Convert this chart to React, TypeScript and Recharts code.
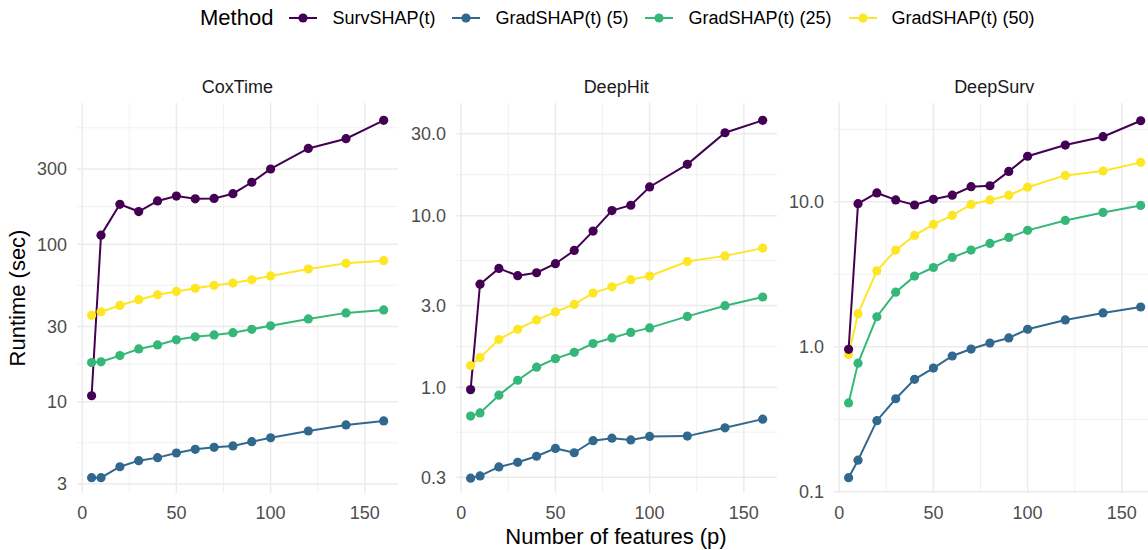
import React from "react";
import {
  LineChart,
  Line,
  XAxis,
  YAxis,
  CartesianGrid,
} from "recharts";

// Number of features on the x axis (shared by all panels)
const features = [5, 10, 20, 30, 40, 50, 60, 70, 80, 90, 100, 120, 140, 160];

const methods = ["SurvSHAP(t)", "GradSHAP(t) (5)", "GradSHAP(t) (25)", "GradSHAP(t) (50)"];
const methodColors = ["#440154", "#31688E", "#35B779", "#FDE725"];

// CoxTime runtimes (sec)
const coxSurv = [10.9, 114, 179, 161, 188, 202, 194, 195, 209, 247, 300, 405, 467, 611];
const coxGrad5 = [3.29, 3.29, 3.86, 4.22, 4.41, 4.72, 4.98, 5.13, 5.23, 5.57, 5.9, 6.51, 7.11, 7.54];
const coxGrad25 = [17.7, 17.9, 19.6, 21.6, 22.9, 24.7, 25.8, 26.5, 27.4, 28.8, 30.3, 33.5, 36.6, 38.2];
const coxGrad50 = [35.3, 37.2, 40.8, 44.4, 47.7, 50.1, 52.4, 54.7, 56.6, 59.4, 62.8, 69.5, 75.5, 78.5];

// DeepHit runtimes (sec)
const hitSurv = [0.97, 3.99, 4.93, 4.47, 4.65, 5.25, 6.27, 8.13, 10.7, 11.5, 14.7, 19.9, 30.4, 35.9];
const hitGrad5 = [0.296, 0.305, 0.344, 0.366, 0.397, 0.441, 0.416, 0.489, 0.506, 0.494, 0.518, 0.52, 0.581, 0.653];
const hitGrad25 = [0.68, 0.71, 0.9, 1.1, 1.31, 1.47, 1.6, 1.8, 1.94, 2.09, 2.22, 2.59, 2.99, 3.36];
const hitGrad50 = [1.34, 1.49, 1.9, 2.18, 2.47, 2.75, 3.04, 3.54, 3.85, 4.24, 4.45, 5.41, 5.83, 6.47];

// DeepSurv runtimes (sec)
const survSurv = [0.96, 9.7, 11.5, 10.3, 9.5, 10.4, 11.1, 12.7, 12.9, 16.2, 20.6, 24.6, 28.1, 36.2];
const survGrad5 = [0.125, 0.165, 0.309, 0.438, 0.596, 0.713, 0.863, 0.964, 1.06, 1.15, 1.32, 1.53, 1.71, 1.88];
const survGrad25 = [0.41, 0.77, 1.61, 2.38, 3.07, 3.52, 4.13, 4.64, 5.16, 5.68, 6.35, 7.43, 8.44, 9.43];
const survGrad50 = [0.885, 1.69, 3.34, 4.64, 5.86, 6.98, 8.05, 9.59, 10.3, 11.1, 12.6, 15.2, 16.3, 18.7];

// axis ticks
const xTicks = [0, 50, 100, 150];
const xMinor = [25, 75, 125];

const coxTicks = [3, 10, 30, 100, 300];
const coxTickLabels = ["3", "10", "30", "100", "300"];
const coxMinor = [5.48, 17.3, 54.8, 173, 548];

const hitTicks = [0.3, 1, 3, 10, 30];
const hitTickLabels = ["0.3", "1.0", "3.0", "10.0", "30.0"];
const hitMinor = [0.548, 1.73, 5.48, 17.3];

const survTicks = [0.1, 1, 10];
const survTickLabels = ["0.1", "1.0", "10.0"];
const survMinor = [0.316, 3.16, 31.6];

const FONT = '"Liberation Sans", Arial, Helvetica, sans-serif';
const PLOT_TOP = 103;
const PLOT_H = 390;
const PLOT_W = 321.3;
const YAXIS_W = 70;
const XAXIS_H = 30;

function buildRows(series: number[][]) {
  return features.map((p, i) => {
    const row: Record<string, number> = { p };
    series.forEach((s, k) => {
      row[`m${k}`] = s[i];
    });
    return row;
  });
}

interface PanelProps {
  title: string;
  plotLeft: number;
  series: number[][];
  domain: [number, number];
  ticks: number[];
  tickLabels: string[];
  minor: number[];
}

// draw order: lines first, then points; SurvSHAP on top
const drawOrder = [1, 2, 3, 0];

function Panel({ title, plotLeft, series, domain, ticks, tickLabels, minor }: PanelProps) {
  const data = buildRows(series);
  const tickStyle = { fill: "#4D4D4D", fontSize: 18, fontFamily: FONT };
  return (
    <>
      <div
        style={{
          position: "absolute",
          left: plotLeft,
          width: PLOT_W,
          top: 75,
          height: 24,
          lineHeight: "24px",
          textAlign: "center",
          fontSize: 18,
          color: "#1A1A1A",
        }}
      >
        {title}
      </div>
      <div style={{ position: "absolute", left: plotLeft - YAXIS_W, top: PLOT_TOP }}>
        <LineChart
          width={YAXIS_W + PLOT_W}
          height={PLOT_H + XAXIS_H}
          data={data}
          margin={{ top: 0, right: 0, bottom: 0, left: 0 }}
        >
          <CartesianGrid
            stroke="#EDEDED"
            strokeWidth={0.8}
            horizontalValues={minor}
            verticalValues={xMinor}
            syncWithTicks
          />
          <CartesianGrid stroke="#EBEBEB" strokeWidth={1.5} syncWithTicks />
          <XAxis
            dataKey="p"
            type="number"
            domain={[-2.75, 167.75]}
            allowDataOverflow
            ticks={xTicks}
            height={XAXIS_H}
            axisLine={false}
            tickLine={false}
            tickSize={0}
            tickMargin={13.5}
            tick={tickStyle}
          />
          <YAxis
            type="number"
            scale="log"
            domain={domain}
            allowDataOverflow
            ticks={ticks}
            width={YAXIS_W}
            axisLine={false}
            tickLine={false}
            tickSize={0}
            tickMargin={10}
            tick={tickStyle}
            tickFormatter={(v: number) => {
              const idx = ticks.indexOf(v);
              return idx >= 0 ? tickLabels[idx] : String(v);
            }}
          />
          {drawOrder.map((k) => (
            <Line
              key={`line-${k}`}
              type="linear"
              dataKey={`m${k}`}
              stroke={methodColors[k]}
              strokeWidth={2}
              dot={false}
              activeDot={false}
              isAnimationActive={false}
            />
          ))}
          {drawOrder.map((k) => (
            <Line
              key={`pts-${k}`}
              type="linear"
              dataKey={`m${k}`}
              stroke="none"
              dot={{ r: 4.6, fill: methodColors[k], stroke: "none" }}
              activeDot={false}
              isAnimationActive={false}
            />
          ))}
        </LineChart>
      </div>
    </>
  );
}

function LegendKey({ color }: { color: string }) {
  return (
    <svg width={28} height={12} style={{ display: "block" }}>
      <line x1={0} y1={6} x2={28} y2={6} stroke={color} strokeWidth={2} />
      <circle cx={14} cy={6} r={4.6} fill={color} />
    </svg>
  );
}

export default function App() {
  return (
    <div
      style={{
        position: "fixed",
        left: 0,
        top: 0,
        width: 1148,
        height: 550,
        overflow: "hidden",
        background: "#FFFFFF",
        fontFamily: FONT,
        color: "#000000",
      }}
    >
      {/* legend */}
      <div
        style={{
          position: "absolute",
          left: 200,
          top: 0,
          height: 36,
          display: "flex",
          alignItems: "center",
          whiteSpace: "nowrap",
        }}
      >
        <span style={{ fontSize: 22 }}>Method</span>
        {methods.map((m, k) => (
          <React.Fragment key={m}>
            <span style={{ marginLeft: k === 0 ? 16 : 17 }}>
              <LegendKey color={methodColors[k]} />
            </span>
            <span style={{ marginLeft: 15, fontSize: 18 }}>{m}</span>
          </React.Fragment>
        ))}
      </div>

      <Panel
        title="CoxTime"
        plotLeft={76.7}
        series={[coxSurv, coxGrad5, coxGrad25, coxGrad50]}
        domain={[2.63, 787]}
        ticks={coxTicks}
        tickLabels={coxTickLabels}
        minor={coxMinor}
      />
      <Panel
        title="DeepHit"
        plotLeft={455.5}
        series={[hitSurv, hitGrad5, hitGrad25, hitGrad50]}
        domain={[0.2425, 45.3]}
        ticks={hitTicks}
        tickLabels={hitTickLabels}
        minor={hitMinor}
      />
      <Panel
        title="DeepSurv"
        plotLeft={833.5}
        series={[survSurv, survGrad5, survGrad25, survGrad50]}
        domain={[0.098, 48.0]}
        ticks={survTicks}
        tickLabels={survTickLabels}
        minor={survMinor}
      />

      {/* axis titles */}
      <div
        style={{
          position: "absolute",
          left: 616 - 150,
          width: 300,
          top: 524,
          height: 26,
          lineHeight: "26px",
          textAlign: "center",
          fontSize: 22,
        }}
      >
        Number of features (p)
      </div>
      <div
        style={{
          position: "absolute",
          left: 18 - 100,
          top: 298 - 13,
          width: 200,
          height: 26,
          lineHeight: "26px",
          textAlign: "center",
          fontSize: 22,
          transform: "rotate(-90deg)",
        }}
      >
        Runtime (sec)
      </div>
    </div>
  );
}
